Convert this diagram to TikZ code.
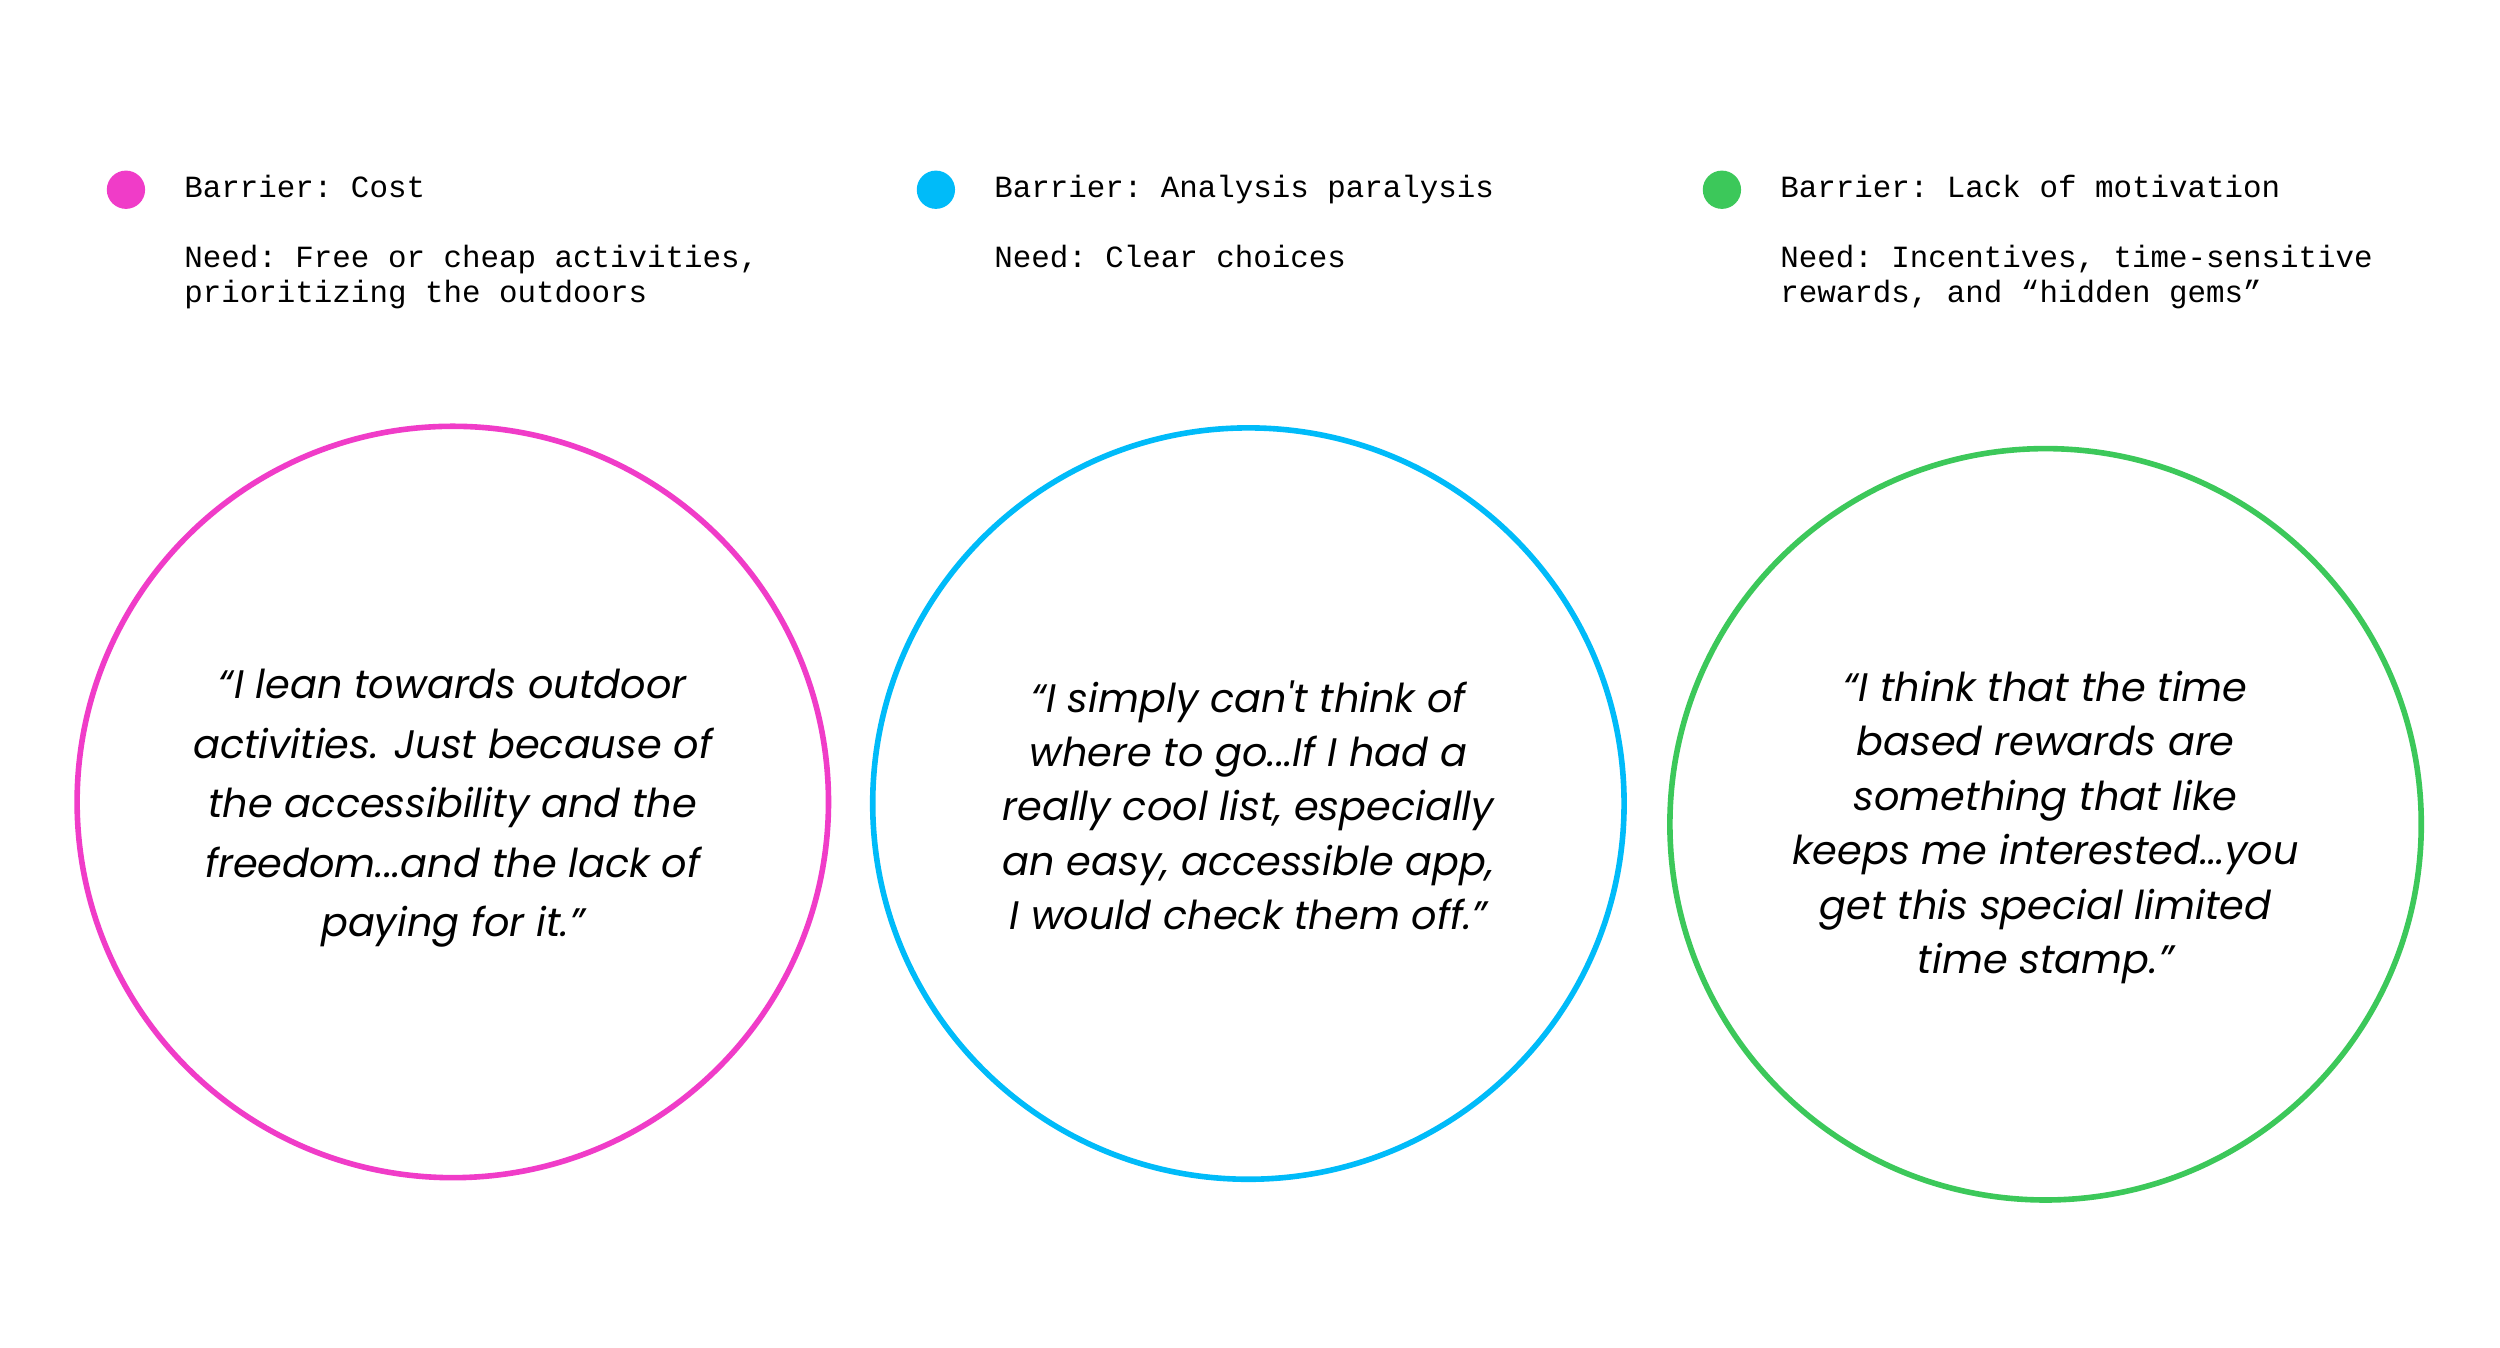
\documentclass[tikz,border=0pt]{standalone}
\usepackage{fontspec}
\setmonofont{Liberation Mono}
\newfontfamily\qf{Poppins}
\definecolor{pk}{HTML}{F03CC8}
\definecolor{bl}{HTML}{00BBF9}
\definecolor{gr}{HTML}{3CC85A}
\begin{document}
\begin{tikzpicture}[x=0.01cm,y=-0.01cm,
  ring/.style={draw=#1,line width=1pt,circle,minimum size=4.71cm,inner sep=0pt},
  dot/.style={fill=#1,circle,minimum size=0.24cm,inner sep=0pt},
  mono/.style={anchor=north west,align=left,inner sep=0pt,font=\ttfamily\fontsize{5.5pt}{6.2pt}\selectfont},
  quote/.style={align=center,inner sep=0pt,font=\qf\itshape\fontsize{7.1pt}{#1}\selectfont}]
\useasboundingbox (0,0) rectangle (1568,845);
\fill[white] (0,0) rectangle (1568,845);
\node[dot=pk] (d1) at (79,119) {};
\node[dot=bl] (d2) at (587,119) {};
\node[dot=gr] (d3) at (1080,119) {};
\node[mono] (b1) at (115,109) {Barrier: Cost};
\node[mono] (n1) at (115,153) {Need: Free or cheap activities,\\prioritizing the outdoors};
\node[mono] (b2) at (623,109) {Barrier: Analysis paralysis};
\node[mono] (n2) at (623,153) {Need: Clear choices};
\node[mono] (b3) at (1116,109) {Barrier: Lack of motivation};
\node[mono] (n3) at (1116,153) {Need: Incentives, time-sensitive\\rewards, and “hidden gems”};
\node[ring=pk] (c1) at (284,503) {};
\node[ring=bl] (c2) at (783,504) {};
\node[ring=gr] (c3) at (1283,517) {};
\node[quote=10.6pt] (q1) at (284,507) {“I lean towards outdoor\\activities. Just because of\\the accessibility and the\\freedom...and the lack of\\paying for it.”};
\node[quote=9.7pt] (q2) at (783,505) {“I simply can't think of\\where to go...If I had a\\really cool list, especially\\an easy, accessible app,\\I would check them off.”};
\node[quote=9.7pt] (q3) at (1283,519) {“I think that the time\\based rewards are\\something that like\\keeps me interested...you\\get this special limited\\time stamp.”};
\end{tikzpicture}
\end{document}
